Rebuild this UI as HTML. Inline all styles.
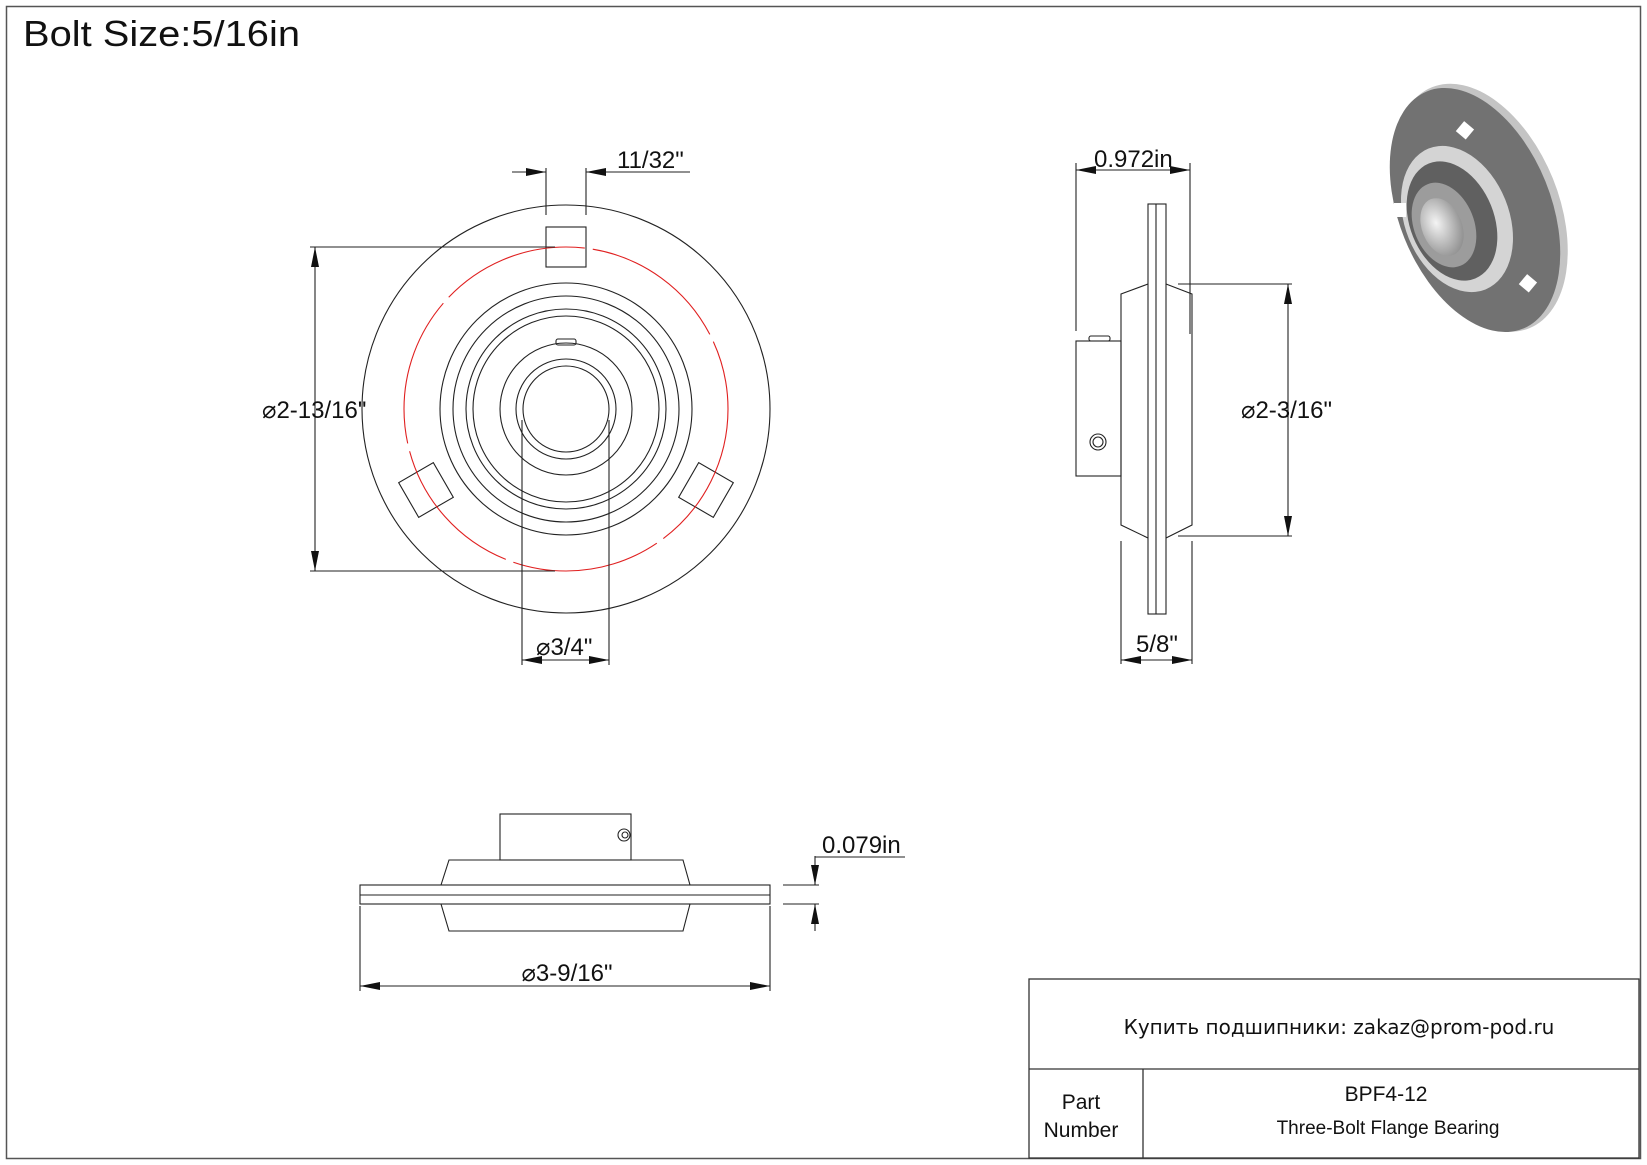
<!DOCTYPE html>
<html><head><meta charset="utf-8"><style>
html,body{margin:0;padding:0;background:#fff}
svg{display:block}
text{font-family:"Liberation Sans",Arial,sans-serif;fill:#111}
</style></head><body>
<svg width="1647" height="1165" viewBox="0 0 1647 1165" xmlns="http://www.w3.org/2000/svg">
<defs>
<marker id="a" viewBox="0 0 20 8" refX="20" refY="4" markerWidth="20" markerHeight="8" markerUnits="userSpaceOnUse" orient="auto"><path d="M0,0 L20,4 L0,8 z" fill="#111"/></marker>
<radialGradient id="g1" cx="0.4" cy="0.4" r="0.7"><stop offset="0" stop-color="#f4f4f4"/><stop offset="1" stop-color="#888"/></radialGradient>
</defs>
<rect x="6.5" y="6.5" width="1634" height="1152" fill="none" stroke="#555" stroke-width="1.5"/>
<text x="23" y="46" font-size="36" textLength="277" lengthAdjust="spacingAndGlyphs">Bolt Size:5/16in</text>

<!-- front view -->
<g fill="none" stroke="#222" stroke-width="1.1">
<circle cx="566" cy="409" r="204"/>
<circle cx="566" cy="409" r="126"/>
<circle cx="566" cy="409" r="113"/>
<circle cx="566" cy="409" r="100"/>
<circle cx="566" cy="409" r="93"/>
<circle cx="566" cy="409" r="66"/>
<circle cx="566" cy="409" r="50"/>
<circle cx="566" cy="409" r="43"/>
<rect x="546" y="227" width="40" height="40"/>
<rect x="-20" y="-20" width="40" height="40" transform="translate(426,490) rotate(-30)"/>
<rect x="-20" y="-20" width="40" height="40" transform="translate(706,490) rotate(30)"/>
<rect x="556" y="339" width="20" height="6" rx="2"/>
</g>
<circle cx="566" cy="409" r="162" fill="none" stroke="#e02020" stroke-width="1.1" stroke-dasharray="150,8"/>
<g stroke="#222" stroke-width="1.1" fill="none">
<line x1="546" y1="168" x2="546" y2="215"/><line x1="586" y1="168" x2="586" y2="215"/>
<line x1="512" y1="172" x2="546" y2="172" marker-end="url(#a)"/>
<line x1="690" y1="172" x2="586" y2="172" marker-end="url(#a)"/>
<line x1="310" y1="247" x2="555" y2="247"/><line x1="310" y1="571" x2="555" y2="571"/>
<line x1="315" y1="409" x2="315" y2="247" marker-end="url(#a)"/>
<line x1="315" y1="409" x2="315" y2="571" marker-end="url(#a)"/>
<line x1="522" y1="420" x2="522" y2="665"/><line x1="609" y1="420" x2="609" y2="665"/>
<line x1="566" y1="660" x2="522" y2="660" marker-end="url(#a)"/>
<line x1="566" y1="660" x2="609" y2="660" marker-end="url(#a)"/>
</g>
<text x="617" y="168" font-size="24">11/32"</text>
<text x="262" y="418" font-size="24">⌀2-13/16"</text>
<text x="536" y="655" font-size="24">⌀3/4"</text>

<!-- side view -->
<g fill="none" stroke="#222" stroke-width="1.1">
<rect x="1148" y="204" width="18" height="410"/>
<line x1="1156" y1="204" x2="1156" y2="614"/>
<path d="M1148,284 L1121,294 L1121,525 L1148,538"/>
<path d="M1166,284 L1192,294 L1192,525 L1166,538"/>
<rect x="1076" y="341" width="45" height="135"/>
<rect x="1089" y="336" width="21" height="5" rx="2"/>
<circle cx="1098" cy="442" r="8"/><circle cx="1098" cy="442" r="5"/>
<line x1="1076" y1="163" x2="1076" y2="331"/><line x1="1190" y1="163" x2="1190" y2="334"/>
<line x1="1133" y1="170" x2="1076" y2="170" marker-end="url(#a)"/>
<line x1="1133" y1="170" x2="1190" y2="170" marker-end="url(#a)"/>
<line x1="1178" y1="284" x2="1292" y2="284"/><line x1="1178" y1="536" x2="1292" y2="536"/>
<line x1="1288" y1="410" x2="1288" y2="284" marker-end="url(#a)"/>
<line x1="1288" y1="410" x2="1288" y2="536" marker-end="url(#a)"/>
<line x1="1121" y1="541" x2="1121" y2="664"/><line x1="1192" y1="541" x2="1192" y2="664"/>
<line x1="1156" y1="660" x2="1121" y2="660" marker-end="url(#a)"/>
<line x1="1156" y1="660" x2="1192" y2="660" marker-end="url(#a)"/>
</g>
<text x="1094" y="167" font-size="24">0.972in</text>
<text x="1241" y="418" font-size="24">⌀2-3/16"</text>
<text x="1136" y="652" font-size="24">5/8"</text>

<!-- bottom view -->
<g fill="none" stroke="#222" stroke-width="1.1">
<rect x="360" y="885" width="410" height="19"/>
<line x1="360" y1="895" x2="770" y2="895"/>
<path d="M441,885 L449,860 L683,860 L690,885"/>
<path d="M441,904 L449,931 L683,931 L690,904"/>
<rect x="500" y="814" width="131" height="46"/>
<circle cx="624" cy="835" r="6"/><circle cx="625" cy="835" r="3"/>
<line x1="783" y1="885" x2="819" y2="885"/><line x1="783" y1="904" x2="819" y2="904"/>
<line x1="815" y1="856" x2="815" y2="885" marker-end="url(#a)"/>
<line x1="815" y1="931" x2="815" y2="904" marker-end="url(#a)"/>
<line x1="815" y1="857" x2="905" y2="857"/>
<line x1="360" y1="906" x2="360" y2="991"/><line x1="770" y1="906" x2="770" y2="991"/>
<line x1="565" y1="986" x2="360" y2="986" marker-end="url(#a)"/>
<line x1="565" y1="986" x2="770" y2="986" marker-end="url(#a)"/>
</g>
<text x="822" y="853" font-size="24">0.079in</text>
<text x="567" y="981" font-size="24" text-anchor="middle">⌀3-9/16"</text>

<!-- 3D view -->
<g transform="translate(1475,210) rotate(-22)">
<ellipse cx="6" cy="0" rx="78" ry="130" fill="#c4c4c4"/>
<ellipse cx="0" cy="0" rx="76" ry="128" fill="#727272"/>
</g>
<ellipse cx="1457" cy="219" rx="52" ry="76" transform="rotate(-22 1457 219)" fill="#d4d4d4"/>
<ellipse cx="1452" cy="221" rx="42" ry="62" transform="rotate(-22 1452 221)" fill="#606060"/>
<ellipse cx="1444" cy="225" rx="30" ry="44" transform="rotate(-22 1444 225)" fill="#9c9c9c"/>
<ellipse cx="1442" cy="227" rx="20" ry="30" transform="rotate(-22 1442 227)" fill="url(#g1)"/>
<rect x="1458" y="124" width="13" height="13" fill="#fff" transform="rotate(40 1465 131)"/>
<rect x="1394" y="203" width="12" height="14" fill="#fff"/>
<rect x="1521" y="277" width="13" height="13" fill="#fff" transform="rotate(40 1528 284)"/>

<!-- title block -->
<g fill="none" stroke="#333" stroke-width="1.3">
<rect x="1029" y="979" width="610" height="179"/>
<line x1="1029" y1="1069" x2="1639" y2="1069"/>
<line x1="1143" y1="1069" x2="1143" y2="1158"/>
</g>
<text x="1339" y="1034" font-size="20" text-anchor="middle" style="font-family:'DejaVu Sans',sans-serif">Купить подшипники: zakaz@prom-pod.ru</text>
<text x="1386" y="1101" font-size="21" text-anchor="middle">BPF4-12</text>
<text x="1388" y="1134" font-size="19" text-anchor="middle">Three-Bolt Flange Bearing</text>
<text x="1081" y="1109" font-size="21" text-anchor="middle">Part</text>
<text x="1081" y="1137" font-size="21" text-anchor="middle">Number</text>
</svg>
</body></html>
